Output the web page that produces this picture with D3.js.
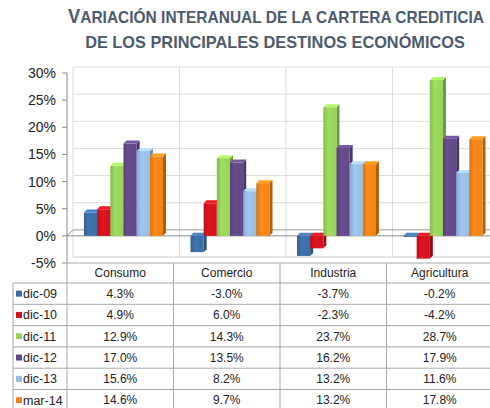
<!DOCTYPE html>
<html>
<head>
<meta charset="utf-8">
<script src="https://cdn.jsdelivr.net/npm/d3@7"></script>
<style>
  body { margin: 0; background: #fff; }
  svg { display: block; }
  text { font-family: "Liberation Sans Narrow", "Arial Narrow", "Liberation Sans", Arial, sans-serif; }
</style>
</head>
<body>
<script>
const width = 490;
const height = 408;

// Data
const categories = ["Consumo", "Comercio", "Industria", "Agricultura"];
const seriesNames = ["dic-09", "dic-10", "dic-11", "dic-12", "dic-13", "mar-14"];
const dic09 = [4.3, -3.0, -3.7, -0.2];
const dic10 = [4.9, 6.0, -2.3, -4.2];
const dic11 = [12.9, 14.3, 23.7, 28.7];
const dic12 = [17.0, 13.5, 16.2, 17.9];
const dic13 = [15.6, 8.2, 13.2, 11.6];
const mar14 = [14.6, 9.7, 13.2, 17.8];
const yTicks = [-5, 0, 5, 10, 15, 20, 25, 30];
const seriesColors = ["#3b6ea7", "#d3121f", "#97d25a", "#634988", "#97bce6", "#f08417"];

const seriesValues = [dic09, dic10, dic11, dic12, dic13, mar14];

const svg = d3.select("body")
  .append("svg")
  .attr("width", width)
  .attr("height", height);

// squeeze a text horizontally to a given width, centred on cx
function fitWidth(sel, cx, target) {
  const len = sel.node().getComputedTextLength();
  const k = target / len;
  sel.attr("x", 0).attr("text-anchor", "middle")
    .attr("transform", `translate(${cx},0) scale(${k},1)`);
}

// Title
const titleColor = "#4d5a6c";
const t1 = svg.append("text")
  .attr("y", 23)
  .attr("fill", titleColor)
  .attr("font-weight", "bold");
t1.append("tspan").attr("font-size", 19.5).text("V");
t1.append("tspan").attr("font-size", 16.5).text("ARIACIÓN INTERANUAL DE LA CARTERA CREDITICIA");
fitWidth(t1, 276, 416);

const t2 = svg.append("text")
  .attr("y", 48)
  .attr("fill", titleColor)
  .attr("font-weight", "bold")
  .attr("font-size", 16.5)
  .text("DE LOS PRINCIPALES DESTINOS ECONÓMICOS");
fitWidth(t2, 275, 380);

// Scales
const x = d3.scaleBand().domain(categories).range([67, 493]).padding(0);
const xInner = d3.scaleBand().domain(seriesNames).range([17, 96]).padding(0);
const y = d3.scaleLinear().domain([-5, 30]).range([263, 73]);

const depth = 6; // back wall offset

// Back wall gridlines
const grid = svg.append("g");
grid.selectAll("line.h")
  .data(yTicks.filter(d => d !== 0))
  .enter()
  .append("line")
  .attr("x1", 67 + depth).attr("x2", 490)
  .attr("y1", d => y(d) - depth).attr("y2", d => y(d) - depth)
  .attr("stroke", "#dcdcdc");

grid.selectAll("line.v")
  .data(categories)
  .enter()
  .append("line")
  .attr("x1", d => x(d) + depth).attr("x2", d => x(d) + depth)
  .attr("y1", y(30) - depth).attr("y2", y(-5) - depth)
  .attr("stroke", "#dcdcdc");

// zero plane
svg.append("line")
  .attr("x1", 67 + depth).attr("x2", 490)
  .attr("y1", y(0) - depth).attr("y2", y(0) - depth)
  .attr("stroke", "#9a9a9a");
svg.append("line")
  .attr("x1", 67).attr("x2", 67 + depth)
  .attr("y1", y(0)).attr("y2", y(0) - depth)
  .attr("stroke", "#9a9a9a");
svg.append("line")
  .attr("x1", 67).attr("x2", 490)
  .attr("y1", y(0)).attr("y2", y(0))
  .attr("stroke", "#8a8a8a");

// floor lines
svg.append("line")
  .attr("x1", 67 + depth).attr("x2", 490)
  .attr("y1", y(-5) - depth).attr("y2", y(-5) - depth)
  .attr("stroke", "#dcdcdc");

// Gradients for bars
const defs = svg.append("defs");
seriesColors.forEach((c, i) => {
  const g = defs.append("linearGradient")
    .attr("id", "grad" + i)
    .attr("x1", "0%").attr("x2", "100%");
  g.append("stop").attr("offset", "0%").attr("stop-color", d3.color(c).darker(0.35));
  g.append("stop").attr("offset", "35%").attr("stop-color", d3.color(c).brighter(0.15));
  g.append("stop").attr("offset", "100%").attr("stop-color", c);
});

// Bars
const bd = 3; // bar depth
const bars = [];
categories.forEach((cat, ci) => {
  seriesNames.forEach((s, si) => {
    bars.push({ cat: cat, series: s, si: si, value: seriesValues[si][ci] });
  });
});

const barG = svg.append("g")
  .selectAll("g")
  .data(bars)
  .enter()
  .append("g");

function bx(d) { return x(d.cat) + xInner(d.series); }
function btop(d) { return y(Math.max(d.value, 0)); }
function bbot(d) { return y(Math.min(d.value, 0)); }
const bw = xInner.bandwidth();

// side face
barG.append("path")
  .attr("d", d => {
    const x0 = bx(d) + bw, t = btop(d), b = bbot(d);
    return `M${x0},${t} L${x0 + bd},${t - bd} L${x0 + bd},${b - bd} L${x0},${b} Z`;
  })
  .attr("fill", d => d3.color(seriesColors[d.si]).darker(0.9));

// top face
barG.append("path")
  .attr("d", d => {
    const x0 = bx(d), t = btop(d);
    return `M${x0},${t} L${x0 + bd},${t - bd} L${x0 + bw + bd},${t - bd} L${x0 + bw},${t} Z`;
  })
  .attr("fill", d => d3.color(seriesColors[d.si]).brighter(0.5));

// front face
barG.append("rect")
  .attr("x", d => bx(d))
  .attr("y", d => btop(d))
  .attr("width", bw)
  .attr("height", d => Math.max(1, bbot(d) - btop(d)))
  .attr("fill", d => `url(#grad${d.si})`);

// Y axis
svg.append("line")
  .attr("x1", 67).attr("x2", 67)
  .attr("y1", y(30)).attr("y2", y(-5))
  .attr("stroke", "#8a8a8a");

const yAxis = svg.append("g");
yAxis.selectAll("line")
  .data(yTicks)
  .enter()
  .append("line")
  .attr("x1", 62).attr("x2", 67)
  .attr("y1", d => y(d)).attr("y2", d => y(d))
  .attr("stroke", "#8a8a8a");

yAxis.selectAll("text")
  .data(yTicks)
  .enter()
  .append("text")
  .attr("x", 56)
  .attr("y", d => y(d))
  .attr("dy", "0.36em")
  .attr("text-anchor", "end")
  .attr("font-size", 14)
  .attr("fill", "#222")
  .text(d => d + "%");

// Data table
const rowTop = 283;
const rowH = 21.3;
const headTop = 263;
const tableRight = 493;
const tableLeft = 13;
const lineColor = "#a8a8a8";
const table = svg.append("g");

// horizontal lines
table.append("line")
  .attr("x1", 67).attr("x2", tableRight)
  .attr("y1", headTop).attr("y2", headTop)
  .attr("stroke", lineColor);

table.selectAll("line.row")
  .data(d3.range(seriesNames.length + 1))
  .enter()
  .append("line")
  .attr("x1", tableLeft).attr("x2", tableRight)
  .attr("y1", i => rowTop + i * rowH).attr("y2", i => rowTop + i * rowH)
  .attr("stroke", lineColor);

// vertical lines
table.selectAll("line.col")
  .data(categories)
  .enter()
  .append("line")
  .attr("x1", d => x(d)).attr("x2", d => x(d))
  .attr("y1", headTop).attr("y2", height)
  .attr("stroke", lineColor);

table.append("line")
  .attr("x1", tableLeft).attr("x2", tableLeft)
  .attr("y1", rowTop).attr("y2", height)
  .attr("stroke", lineColor);

// headers
table.selectAll("text.head")
  .data(categories)
  .enter()
  .append("text")
  .attr("x", d => x(d) + x.bandwidth() / 2)
  .attr("y", headTop + 10)
  .attr("dy", "0.36em")
  .attr("text-anchor", "middle")
  .attr("font-size", 12)
  .attr("fill", "#222")
  .text(d => d);

// row labels with legend keys
const rows = table.selectAll("g.row")
  .data(seriesNames)
  .enter()
  .append("g")
  .attr("transform", (d, i) => `translate(0, ${rowTop + i * rowH + rowH / 2})`);

rows.append("rect")
  .attr("x", 16).attr("y", -3)
  .attr("width", 6).attr("height", 6)
  .attr("fill", (d, i) => seriesColors[i]);

rows.append("text")
  .attr("x", 23)
  .attr("dy", "0.36em")
  .attr("font-size", 12.5)
  .attr("fill", "#222")
  .text(d => d);

const fmt = d3.formatLocale({ decimal: ".", thousands: ",", grouping: [3], currency: ["", ""], minus: "-" }).format(".1f");
rows.each(function (s, si) {
  d3.select(this).selectAll("text.val")
    .data(categories)
    .enter()
    .append("text")
    .attr("x", d => x(d) + x.bandwidth() / 2)
    .attr("dy", "0.36em")
    .attr("text-anchor", "middle")
    .attr("font-size", 12)
    .attr("fill", "#222")
    .text((d, ci) => fmt(seriesValues[si][ci]) + "%");
});
</script>
</body>
</html>
